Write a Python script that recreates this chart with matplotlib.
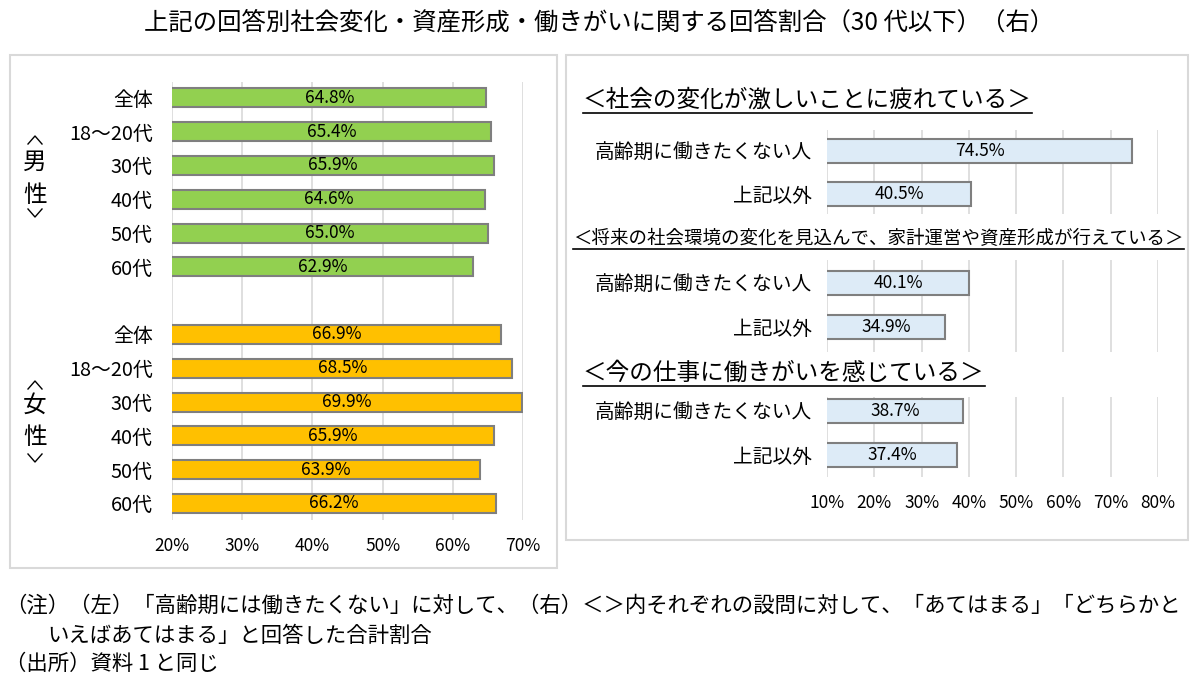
import numpy as np
import matplotlib.pyplot as plt
from matplotlib.lines import Line2D
from matplotlib.patches import Rectangle

plt.rcParams['font.family'] = ['Noto Sans CJK JP', 'DejaVu Sans']

# ---------------- data ----------------
age_labels = ['全体', '18～20代', '30代', '40代', '50代', '60代']
male_vals = [64.8, 65.4, 65.9, 64.6, 65.0, 62.9]
female_vals = [66.9, 68.5, 69.9, 65.9, 63.9, 66.2]
left_ticks = [20, 30, 40, 50, 60, 70]

group_labels = ['高齢期に働きたくない人', '上記以外']
q_titles = ['＜社会の変化が激しいことに疲れている＞',
            '＜将来の社会環境の変化を見込んで、家計運営や資産形成が行えている＞',
            '＜今の仕事に働きがいを感じている＞']
tired_vals = [74.5, 40.5]
plan_vals = [40.1, 34.9]
worth_vals = [38.7, 37.4]
right_ticks = [10, 20, 30, 40, 50, 60, 70, 80]

title = '上記の回答別社会変化・資産形成・働きがいに関する回答割合（30 代以下）（右）'
notes = ['（注）（左）「高齢期には働きたくない」に対して、（右）＜＞内それぞれの設問に対して、「あてはまる」「どちらかと',
         'いえばあてはまる」と回答した合計割合',
         '（出所）資料 1 と同じ']

# ---------------- styles ----------------
GREEN = '#92D050'
ORANGE = '#FFC000'
BLUE = '#DDEBF7'
EDGE = '#7F7F7F'
GRID = '#D9D9D9'

W, H = 1198, 686
fig = plt.figure(figsize=(W / 100, H / 100), dpi=100)


def px_axes(x0, x1, y0, y1):
    # axes from pixel box (y measured from top)
    return fig.add_axes([x0 / W, 1 - y1 / H, (x1 - x0) / W, (y1 - y0) / H])


def px_line(xs, ys, **kw):
    fig.add_artist(Line2D([x / W for x in xs], [1 - y / H for y in ys],
                          transform=fig.transFigure, **kw))


def style_axis(ax, ticks, show_ticks):
    ax.set_xlim(ticks[0], ticks[-1])
    ax.set_xticks(ticks)
    if show_ticks:
        ax.set_xticklabels([f'{t}%' for t in ticks], fontsize=12.5)
    else:
        ax.set_xticklabels([])
    ax.grid(axis='x', color=GRID, linewidth=1.2)
    ax.set_axisbelow(True)
    for s in ax.spines.values():
        s.set_visible(False)
    ax.tick_params(length=0, pad=12)
    ax.tick_params(axis='y', pad=12)


# outer frames
for (x0, x1, y0, y1) in [(10, 557, 55, 568), (566, 1188, 55, 540)]:
    fig.add_artist(Rectangle((x0 / W, 1 - y1 / H), (x1 - x0) / W, (y1 - y0) / H,
                             transform=fig.transFigure, fill=False,
                             edgecolor=GRID, linewidth=1.5))

fig.text(599 / W, 1 - 22 / H, title, ha='center', va='center', fontsize=17.6)

# ---------------- left chart ----------------
axL = px_axes(172, 523, 82, 520)
n = len(age_labels)
pos_m = np.arange(n)
pos_f = np.arange(n) + n + 1
axL.barh(pos_m, male_vals, height=0.56, color=GREEN, edgecolor=EDGE, linewidth=1.5)
axL.barh(pos_f, female_vals, height=0.56, color=ORANGE, edgecolor=EDGE, linewidth=1.5)
style_axis(axL, left_ticks, True)
axL.set_ylim(pos_f[-1] + 0.49, -0.47)
axL.set_yticks(list(pos_m) + list(pos_f))
axL.set_yticklabels(age_labels + age_labels, fontsize=14.3)
axL.tick_params(axis='y', pad=14)
for p, v in zip(list(pos_m) + list(pos_f), male_vals + female_vals):
    axL.text((left_ticks[0] + v) / 2, p, f'{v:.1f}%', ha='center', va='center', fontsize=12.5)

# vertical group labels: chevron, two characters, chevron
for ch, ys in [('男', [140, 162, 195, 213]), ('女', [385, 405, 438, 458])]:
    px_line([28, 35, 42], [ys[0] + 4, ys[0] - 4, ys[0] + 4], color='black', linewidth=1)
    fig.text(35 / W, 1 - ys[1] / H, ch, ha='center', va='center', fontsize=17)
    fig.text(35 / W, 1 - ys[2] / H, '性', ha='center', va='center', fontsize=17)
    px_line([28, 35, 42], [ys[3] - 4, ys[3] + 4, ys[3] - 4], color='black', linewidth=1)

# ---------------- right charts ----------------
sections = [
    (tired_vals, (130, 214), (0.49, 0.47), 583, 100, 17),
    (plan_vals, (260, 352), (0.52, 0.57), 573, 239, 13.3),
    (worth_vals, (397, 477), (0.32, 0.5), 583, 373, 17),
]
fig.canvas.draw()
renderer = fig.canvas.get_renderer()
for i, (vals, (y0, y1), (pt, pb), tx, ty, tfs) in enumerate(sections):
    ax = px_axes(827, 1158, y0, y1)
    pos = np.arange(len(vals))
    ax.barh(pos, vals, height=0.56, color=BLUE, edgecolor=EDGE, linewidth=1.5)
    style_axis(ax, right_ticks, i == len(sections) - 1)
    ax.set_ylim(pos[-1] + pb, -pt)
    ax.set_yticks(pos)
    ax.set_yticklabels(group_labels, fontsize=14.2)
    ax.tick_params(axis='y', pad=11)
    for p, v in zip(pos, vals):
        ax.text((right_ticks[0] + v) / 2, p, f'{v:.1f}%', ha='center', va='center', fontsize=12.5)
    t = fig.text(tx / W, 1 - ty / H, q_titles[i], ha='left', va='center', fontsize=tfs)
    bb = t.get_window_extent(renderer)
    uy = bb.y0 - 1
    fig.add_artist(Line2D([bb.x0 / W, bb.x1 / W], [uy / H, uy / H],
                          transform=fig.transFigure, color='black', linewidth=1.2))

# ---------------- notes ----------------
fig.text(5 / W, 1 - 606 / H, notes[0], ha='left', va='center', fontsize=15.4)
fig.text(47 / W, 1 - 636 / H, notes[1], ha='left', va='center', fontsize=15.4)
fig.text(5 / W, 1 - 664 / H, notes[2], ha='left', va='center', fontsize=15.4)

fig.savefig('out.png', dpi=100)
